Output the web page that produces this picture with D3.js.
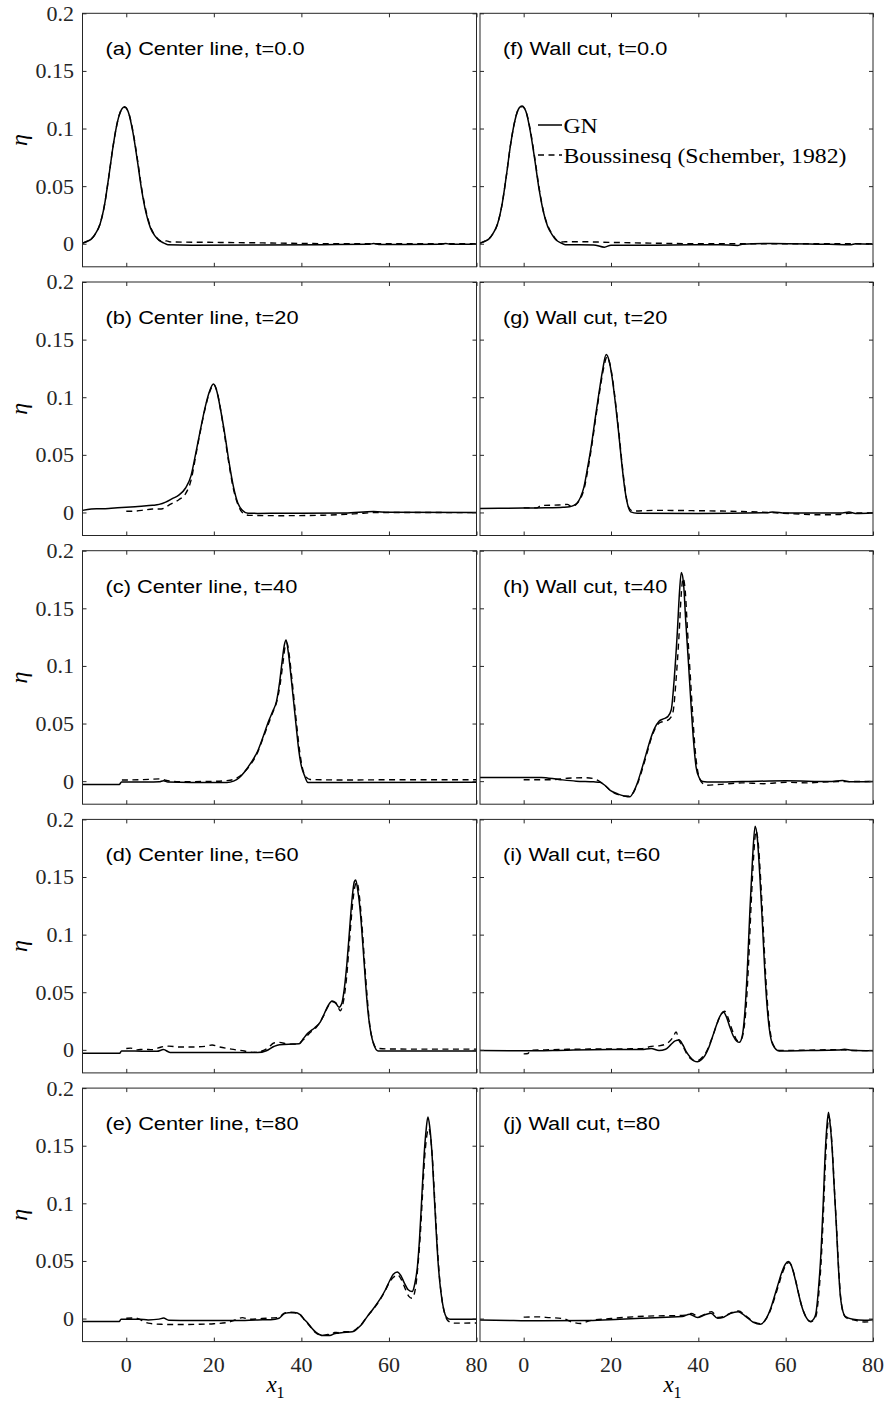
<!DOCTYPE html>
<html>
<head>
<meta charset="utf-8">
<script src="https://cdn.jsdelivr.net/npm/d3@7"></script>
<style>
  body { margin: 0; background: #fff; }
  svg { display: block; }
</style>
</head>
<body>
<svg id="fig" width="891" height="1405"></svg>
<script>
// ---------- axis ticks and labels ----------
const xDomain = [-10, 80];
const yDomain = [-0.02, 0.2];
const xTicks = [0, 20, 40, 60, 80];
const xTickLabels = ["0", "20", "40", "60", "80"];
const yTicks = [0, 0.05, 0.1, 0.15, 0.2];
const yTickLabels = ["0", "0.05", "0.1", "0.15", "0.2"];
const seriesNames = ["GN", "Boussinesq (Schember, 1982)"];

// panel titles: left column (center line), right column (wall cut)
const centerTitles = ["(a) Center line, t=0.0", "(b) Center line, t=20", "(c) Center line, t=40",
                      "(d) Center line, t=60", "(e) Center line, t=80"];
const wallTitles = ["(f) Wall cut, t=0.0", "(g) Wall cut, t=20", "(h) Wall cut, t=40",
                    "(i) Wall cut, t=60", "(j) Wall cut, t=80"];

// ---------- surface elevation profiles [x1, eta] ----------
// (a) center line, t = 0
const gnA = [[-10,0.0005],[-9,0.002],[-8,0.004],[-7,0.009],[-6,0.017],[-5,0.033],[-4,0.058],[-3,0.085],
  [-2,0.106],[-1,0.117],[-0.4,0.119],[0.5,0.114],[1.5,0.097],[2.5,0.073],[3.5,0.047],[4.5,0.027],
  [5.5,0.014],[6.5,0.007],[7.5,0.003],[8.5,0.0008],[9.5,-0.0008],[15,-0.0012],[30,-0.0011],[45,-0.0008],
  [55.5,-0.0005],[56.5,0.0003],[58,-0.0006],[72,-0.0004],[73,0.0003],[74,-0.0005],[80,-0.0004]];
const bqA = [[-10,0.0005],[-9,0.002],[-8,0.004],[-7,0.009],[-6,0.017],[-5,0.033],[-4,0.058],[-3,0.085],
  [-2,0.106],[-1,0.117],[-0.3,0.1185],[0.6,0.113],[1.6,0.096],[2.6,0.072],[3.6,0.046],[4.6,0.027],
  [5.6,0.014],[6.6,0.007],[7.6,0.003],[8.5,0.002],[9.2,0.0025],[10,0.0016],[20,0.0012],[30,0.0008],
  [40,0.0003],[50,0.0],[80,0.0]];

// (b) center line, t = 20
const gnB = [[-10,0.0018],[-8,0.003],[-6,0.0032],[-4,0.0035],[-2,0.004],[0,0.0045],[2,0.005],[4,0.0055],
  [6,0.0062],[7.5,0.007],[9,0.009],[10.5,0.012],[12,0.015],[13.5,0.021],[14.8,0.032],[15.8,0.05],
  [17,0.073],[18,0.091],[19,0.105],[19.9,0.1115],[20.7,0.105],[21.5,0.09],[22.5,0.068],[23.5,0.043],
  [24.5,0.022],[25.5,0.008],[26.5,0.002],[27.8,-0.0006],[30,-0.0008],[40,-0.0006],[50,-0.0004],
  [56.5,0.0008],[60,0.0002],[80,0.0]];
const bqB = [[0,0.001],[2,0.0012],[4,0.002],[6,0.003],[8,0.003],[10,0.007],[12,0.011],[13.5,0.016],
  [14.8,0.028],[16,0.052],[17,0.072],[18,0.09],[19,0.104],[20,0.111],[20.8,0.104],[21.6,0.088],
  [22.5,0.066],[23.5,0.041],[24.5,0.02],[25.5,0.007],[26.5,0.0],[28,-0.0025],[35,-0.0028],
  [45,-0.0024],[52,-0.0012],[58,0.0],[80,-0.0002]];

// (c) center line, t = 40
const gnC = [[-10,-0.0028],[-1.6,-0.0028],[-1.1,-0.0008],[5,-0.0008],[7.5,-0.0006],[8.5,0.0004],
  [9.5,-0.0008],[15,-0.0012],[23,-0.0012],[24.5,0.0],[25.8,0.003],[27,0.008],[28.5,0.016],[30,0.026],
  [31.3,0.039],[32.5,0.052],[33.5,0.061],[34.3,0.069],[35,0.085],[35.6,0.104],[36.1,0.118],
  [36.5,0.1225],[37,0.112],[37.6,0.092],[38.2,0.07],[38.8,0.048],[39.4,0.027],[40,0.013],
  [40.7,0.005],[41.5,-0.0012],[50,-0.0012],[80,-0.001]];
const bqC = [[-1,0.001],[3,0.0012],[8,0.002],[9,0.0008],[12,-0.0005],[18,-0.0003],[23,0.0005],
  [24.5,0.0015],[25.8,0.004],[27,0.008],[28.5,0.015],[30,0.025],[31.3,0.038],[32.5,0.05],[33.5,0.06],
  [34.3,0.068],[35.1,0.083],[35.8,0.103],[36.3,0.117],[36.7,0.12],[37.2,0.11],[37.8,0.09],
  [38.4,0.068],[39,0.046],[39.6,0.026],[40.2,0.012],[41,0.004],[42,0.0015],[50,0.001],[60,0.0012],
  [80,0.0012]];

// (d) center line, t = 60
const gnD = [[-10,-0.0029],[-1.5,-0.0029],[-1.1,-0.0009],[5,-0.0012],[7,-0.0012],[8.5,0.0002],
  [10,-0.0022],[30,-0.0024],[32,-0.0008],[33.7,0.0029],[35,0.0045],[38,0.005],[39.5,0.0052],
  [40.5,0.01],[41.5,0.0145],[43,0.019],[44.3,0.024],[45.3,0.032],[46.2,0.039],[47,0.0425],
  [47.8,0.041],[48.6,0.037],[49.2,0.04],[49.8,0.053],[50.4,0.075],[51,0.104],[51.6,0.132],
  [52.1,0.146],[52.4,0.1474],[52.9,0.138],[53.5,0.118],[54.1,0.088],[54.7,0.056],[55.3,0.03],
  [55.9,0.014],[56.5,0.005],[57.5,-0.0009],[60,-0.001],[80,-0.0009]];
const bqD = [[0,0.0012],[1,0.0015],[2.5,0.0],[4,0.0005],[6,0.0002],[8,0.0025],[9.7,0.0032],
  [12,0.0025],[15,0.0025],[18,0.003],[19.6,0.0042],[21,0.0028],[24,0.0006],[27,-0.001],[29,-0.0022],
  [31,-0.001],[32.5,0.002],[33.7,0.006],[35,0.0065],[37,0.005],[39,0.005],[40.5,0.009],[42,0.015],
  [43.5,0.02],[45,0.029],[46,0.037],[47,0.042],[48,0.04],[48.9,0.034],[49.6,0.042],[50.3,0.062],
  [51,0.095],[51.7,0.127],[52.3,0.143],[52.7,0.1455],[53.2,0.135],[53.8,0.11],[54.4,0.078],
  [55,0.047],[55.6,0.022],[56.3,0.008],[57.2,0.0015],[60,0.0008],[70,0.0006],[80,0.0006]];

// (e) center line, t = 80
const gnE = [[-10,-0.0026],[-1.6,-0.0026],[-1.2,-0.0006],[3,-0.0006],[5,-0.0012],[7.5,-0.0005],
  [8.5,0.0004],[9.7,-0.0014],[15,-0.0017],[25,-0.0017],[30,-0.0012],[33,-0.001],[34.9,0.0003],
  [36,0.004],[37,0.005],[38.4,0.0052],[39.8,0.0032],[40.6,-0.0005],[41.5,-0.004],[42.3,-0.008],
  [43.2,-0.0115],[44.1,-0.0138],[45,-0.0148],[46.5,-0.0147],[47.5,-0.0132],[48.3,-0.0127],
  [49.5,-0.012],[51,-0.0117],[52,-0.011],[53,-0.008],[54,-0.004],[55,0.0015],[56.5,0.009],
  [58,0.017],[59.2,0.025],[60.2,0.033],[61,0.0385],[61.9,0.0405],[62.7,0.0375],[63.5,0.031],
  [64.4,0.025],[65.3,0.0234],[65.9,0.03],[66.5,0.045],[67,0.07],[67.5,0.105],[68,0.14],
  [68.5,0.164],[68.9,0.175],[69.3,0.167],[69.8,0.145],[70.3,0.11],[70.8,0.075],[71.3,0.045],
  [71.9,0.022],[72.5,0.008],[73.2,0.001],[74,-0.0006],[80,-0.0006]];
const bqE = [[0,0.0003],[2,0.0005],[3.5,-0.0015],[5,-0.004],[8,-0.005],[12,-0.0052],[16,-0.005],
  [20,-0.0045],[23,-0.0035],[25,-0.001],[26.5,0.0008],[28,-0.0006],[31,0.0],[33,0.0005],[34.9,0.001],
  [36,0.0045],[37.2,0.0055],[38.5,0.005],[39.8,0.003],[40.6,-0.0008],[41.5,-0.0045],[42.3,-0.0085],
  [43.2,-0.012],[44.1,-0.014],[45,-0.0145],[46,-0.0138],[46.8,-0.0142],[47.6,-0.012],[48.4,-0.0122],
  [49.5,-0.0115],[51,-0.0115],[52,-0.0105],[53,-0.0075],[54,-0.0035],[55,0.0015],[56.5,0.0085],
  [58,0.0165],[59.2,0.0245],[60.2,0.032],[61.1,0.036],[62,0.038],[62.8,0.034],[63.6,0.027],
  [64.5,0.0195],[65.3,0.0176],[66,0.025],[66.6,0.045],[67.2,0.075],[67.7,0.11],[68.2,0.142],
  [68.7,0.16],[69.1,0.165],[69.5,0.158],[70,0.135],[70.5,0.1],[71,0.066],[71.5,0.038],[72.1,0.017],
  [72.7,0.005],[73.5,-0.002],[75,-0.004],[80,-0.0038]];

// (f) wall cut, t = 0
const gnF = [[-10,0.0005],[-9,0.002],[-8,0.004],[-7,0.009],[-6,0.017],[-5,0.033],[-4,0.058],[-3,0.086],
  [-2,0.107],[-1,0.118],[-0.4,0.1195],[0.5,0.115],[1.5,0.098],[2.5,0.074],[3.5,0.048],[4.5,0.028],
  [5.5,0.015],[6.5,0.008],[7.5,0.003],[8.5,0.0008],[9.5,-0.0008],[16,-0.001],[18.5,-0.003],[20,-0.0012],
  [30,-0.0012],[45,-0.0008],[49,-0.0015],[50,-0.0004],[57,0.0003],[70,-0.0005],[75,-0.0008],[76,0.0],
  [80,-0.0005]];
const bqF = [[-10,0.0005],[-9,0.002],[-8,0.004],[-7,0.009],[-6,0.017],[-5,0.033],[-4,0.058],[-3,0.086],
  [-2,0.107],[-1,0.118],[-0.3,0.119],[0.6,0.114],[1.6,0.097],[2.6,0.073],[3.6,0.047],[4.6,0.027],
  [5.6,0.015],[6.6,0.008],[7.6,0.003],[8.6,0.0015],[9.5,0.0018],[12,0.0018],[20,0.0012],[30,0.0005],
  [40,0.0],[80,0.0]];

// (g) wall cut, t = 20
const gnG = [[-10,0.0035],[0,0.0038],[5,0.004],[9,0.0045],[10.5,0.005],[11.5,0.0062],[12.3,0.0085],
  [13,0.013],[13.8,0.022],[14.6,0.038],[15.5,0.058],[16.4,0.082],[17.3,0.105],[18.1,0.124],
  [18.9,0.137],[19.6,0.131],[20.3,0.116],[21,0.095],[21.7,0.071],[22.4,0.045],[23.1,0.022],
  [23.8,0.007],[24.5,0.0005],[26,-0.0006],[40,-0.0008],[56,-0.0002],[57,0.0004],[60,-0.0005],
  [73,-0.0004],[74.5,0.0004],[76,-0.0008],[80,-0.0004]];
const bqG = [[0,0.004],[3,0.004],[4,0.006],[8,0.0065],[10,0.007],[11,0.005],[12,0.007],[13,0.012],
  [13.8,0.02],[14.7,0.037],[15.6,0.058],[16.5,0.082],[17.4,0.105],[18.3,0.125],[19.1,0.135],
  [19.8,0.128],[20.5,0.112],[21.2,0.09],[21.9,0.066],[22.6,0.04],[23.3,0.018],[24,0.005],[25,0.0012],
  [30,0.0018],[40,0.0015],[50,0.0008],[56,0.0],[62,-0.0012],[68,-0.002],[72,-0.0018],[75,-0.0005],
  [80,-0.0003]];

// (h) wall cut, t = 40
const gnH = [[-10,0.0032],[4,0.0032],[8,0.0015],[12,0.0],[16,-0.0006],[17.5,-0.001],[18.7,-0.004],
  [20,-0.0085],[21.5,-0.011],[23,-0.0128],[24.3,-0.0136],[25.2,-0.009],[26,-0.002],[27,0.01],
  [28,0.023],[29,0.036],[30,0.046],[31,0.052],[32,0.054],[33,0.056],[33.8,0.062],[34.5,0.09],
  [35.2,0.13],[35.7,0.165],[36.1,0.181],[36.6,0.172],[37.1,0.14],[37.7,0.105],[38.3,0.068],
  [38.9,0.035],[39.5,0.012],[40.2,0.003],[41,-0.0003],[43,-0.0008],[50,-0.0004],[60,0.0003],
  [70,-0.0003],[73,0.0006],[75,-0.0006],[80,-0.0003]];
const bqH = [[0,0.0012],[6,0.0012],[10,0.0025],[14,0.003],[16,0.0022],[17.5,-0.0005],[18.7,-0.004],
  [20,-0.0085],[21.5,-0.0115],[23,-0.013],[24.3,-0.013],[25.4,-0.008],[26.3,0.0],[27.3,0.012],
  [28.3,0.025],[29.3,0.038],[30.3,0.047],[31.3,0.051],[32.4,0.052],[33.4,0.054],[34.2,0.06],
  [34.9,0.088],[35.6,0.128],[36.1,0.163],[36.5,0.176],[37,0.165],[37.5,0.132],[38.1,0.095],
  [38.7,0.058],[39.3,0.026],[40,0.006],[41,-0.002],[42,-0.0035],[45,-0.0028],[50,-0.0015],
  [55,-0.0022],[60,-0.001],[65,-0.0015],[70,-0.0005],[80,-0.0003]];

// (i) wall cut, t = 60
const gnI = [[-10,-0.0006],[0,-0.0008],[10,-0.0003],[20,0.0002],[27,0.0003],[29.2,0.0012],[31,-0.0006],
  [32.5,0.0005],[33.7,0.0045],[34.7,0.0078],[35.6,0.0085],[36.5,0.004],[37.3,-0.002],[38.2,-0.0066],
  [39,-0.0095],[39.8,-0.0104],[40.7,-0.0085],[41.5,-0.005],[42.4,0.002],[43.3,0.012],[44.2,0.022],
  [45,0.0295],[45.8,0.0327],[46.5,0.028],[47.2,0.02],[48,0.012],[48.8,0.0075],[49.4,0.0065],
  [50,0.011],[50.6,0.03],[51.2,0.068],[51.8,0.12],[52.4,0.165],[53,0.194],[53.5,0.184],[54.1,0.15],
  [54.7,0.1075],[55.2,0.07],[55.7,0.04],[56.3,0.017],[57,0.005],[58.5,-0.0009],[65,-0.0006],
  [72,-0.0002],[73.5,0.0005],[75,-0.0003],[80,-0.0008]];
const bqI = [[0,-0.0035],[1,-0.0032],[1.5,-0.0005],[5,0.0],[10,0.0005],[20,0.0008],[27,0.001],
  [29.2,0.003],[31,0.0035],[33,0.006],[34.2,0.011],[34.9,0.0155],[35.6,0.008],[36.5,0.003],
  [37.3,-0.003],[38.2,-0.0075],[39.2,-0.0095],[40.1,-0.009],[41,-0.006],[41.8,-0.002],[42.6,0.005],
  [43.5,0.014],[44.4,0.024],[45.2,0.031],[46,0.0335],[46.7,0.029],[47.4,0.021],[48.2,0.013],
  [49,0.008],[49.7,0.0085],[50.3,0.015],[50.9,0.035],[51.5,0.075],[52.1,0.127],[52.7,0.17],
  [53.2,0.19],[53.7,0.18],[54.3,0.146],[54.9,0.103],[55.4,0.066],[55.9,0.037],[56.5,0.015],
  [57.2,0.004],[58.5,-0.0005],[65,-0.0003],[72,0.0002],[75,-0.0005],[80,-0.0007]];

// (j) wall cut, t = 80
const gnJ = [[-10,-0.0012],[-2.3,-0.0017],[3.5,-0.002],[15,-0.0017],[22,-0.0005],[26.9,0.0003],
  [32.7,0.0012],[36.3,0.0017],[38,0.0038],[39.8,0.0009],[41.5,0.0032],[42.9,0.0046],[44.4,0.0003],
  [45.8,0.0012],[47.4,0.0046],[49.1,0.006],[50.9,0.0017],[52.6,-0.0032],[54.2,-0.005],[55.6,0.0003],
  [56.5,0.008],[57.3,0.0176],[58.2,0.029],[59.1,0.04],[59.9,0.047],[60.6,0.0495],[61.2,0.047],
  [61.8,0.04],[62.5,0.029],[63.2,0.0176],[63.9,0.008],[64.6,0.0017],[65.7,-0.0026],[66.4,-0.0005],
  [66.9,0.004],[67.5,0.025],[68.1,0.058],[68.6,0.1],[69,0.139],[69.4,0.165],[69.8,0.179],[70.2,0.168],
  [70.6,0.15],[71.1,0.115],[71.6,0.081],[72,0.05],[72.5,0.0205],[73,0.008],[73.7,0.0017],
  [75.4,-0.0006],[78,-0.0015],[80,-0.001]];
const bqJ = [[0,0.0012],[3,0.0015],[6,0.0008],[9,0.0],[11,-0.003],[13,-0.0043],[15,-0.002],[20,0.0],
  [25,0.0015],[30,0.0023],[35,0.0025],[37,0.003],[38.5,0.0045],[40,0.0015],[41.6,0.004],[43,0.006],
  [44.5,0.001],[46,0.002],[47.5,0.005],[49.2,0.0065],[51,0.002],[52.7,-0.003],[54.3,-0.0045],
  [55.7,0.0008],[56.6,0.008],[57.4,0.017],[58.3,0.028],[59.2,0.039],[60,0.046],[60.7,0.0485],
  [61.3,0.046],[61.9,0.039],[62.6,0.028],[63.3,0.016],[64,0.007],[64.7,0.001],[65.8,-0.0028],
  [66.5,-0.0008],[67,0.003],[67.6,0.022],[68.2,0.055],[68.7,0.097],[69.1,0.135],[69.5,0.162],
  [69.9,0.175],[70.3,0.166],[70.7,0.146],[71.2,0.11],[71.7,0.076],[72.1,0.046],[72.6,0.018],
  [73.1,0.006],[73.9,0.0005],[75.5,-0.001],[78,-0.003],[80,-0.0025]];

const gnCenter = [gnA, gnB, gnC, gnD, gnE];
const bqCenter = [bqA, bqB, bqC, bqD, bqE];
const gnWall = [gnF, gnG, gnH, gnI, gnJ];
const bqWall = [bqF, bqG, bqH, bqI, bqJ];

// ---------- layout ----------
const svg = d3.select("#fig");
const cols = [{ left: 82.5, right: 476.5 }, { left: 480, right: 873 }];
const rowTop0 = 13.3, rowStep = 268.7, panelH = 253.5;
const frameColor = "#262626";
const serif = "'Liberation Serif', 'Times New Roman', serif";
const sans = "'Liberation Sans', Arial, Helvetica, sans-serif";
const titleStretch = 1.21;

const line = (x, y) => d3.line().x(d => x(d[0])).y(d => y(d[1])).curve(d3.curveMonotoneX);

function drawPanel(ci, ri, title, gn, bq) {
  const c = cols[ci];
  const top = rowTop0 + ri * rowStep, bottom = top + panelH;
  const x = d3.scaleLinear().domain(xDomain).range([c.left, c.right]);
  const y = d3.scaleLinear().domain(yDomain).range([bottom, top]);
  const g = svg.append("g");

  const clipId = `clip-${ci}-${ri}`;
  g.append("clipPath").attr("id", clipId).append("rect")
    .attr("x", c.left).attr("y", top).attr("width", c.right - c.left).attr("height", panelH);

  // curves
  const curves = g.append("g").attr("clip-path", `url(#${clipId})`);
  curves.append("path").datum(bq).attr("d", line(x, y))
    .attr("fill", "none").attr("stroke", "#000").attr("stroke-width", 1.4)
    .attr("stroke-dasharray", "6,4.5");
  curves.append("path").datum(gn).attr("d", line(x, y))
    .attr("fill", "none").attr("stroke", "#000").attr("stroke-width", 1.5);

  // inward ticks on all four sides
  const tickLen = 4;
  const axes = [
    { ax: d3.axisBottom(x).tickValues(xTicks), tr: `translate(0,${bottom})` },
    { ax: d3.axisTop(x).tickValues(xTicks), tr: `translate(0,${top})` },
    { ax: d3.axisLeft(y).tickValues(yTicks), tr: `translate(${c.left},0)` },
    { ax: d3.axisRight(y).tickValues(yTicks), tr: `translate(${c.right},0)` }
  ];
  axes.forEach(a => {
    const ag = g.append("g").attr("transform", a.tr)
      .call(a.ax.tickSize(-tickLen).tickSizeOuter(0).tickFormat(""));
    ag.select(".domain").remove();
    ag.selectAll(".tick line").attr("stroke", frameColor).attr("stroke-width", 1);
  });

  // frame
  g.append("rect").attr("x", c.left).attr("y", top)
    .attr("width", c.right - c.left).attr("height", panelH)
    .attr("fill", "none").attr("stroke", frameColor).attr("stroke-width", 1);

  // tick labels
  if (ci === 0) {
    g.selectAll(".ylab").data(yTicks).join("text")
      .attr("x", c.left - 8.5).attr("y", d => y(d)).attr("dy", "0.34em")
      .attr("text-anchor", "end").attr("font-family", serif).attr("font-size", 22)
      .attr("fill", frameColor).text((d, i) => yTickLabels[i]);
    // y axis label
    g.append("text")
      .attr("transform", `translate(27,${y(0.09)}) rotate(-90)`)
      .attr("text-anchor", "middle").attr("font-family", serif).attr("font-style", "italic")
      .attr("font-size", 24).attr("fill", "#000").text("η");
  }
  if (ri === 4) {
    g.selectAll(".xlab").data(xTicks).join("text")
      .attr("x", d => x(d)).attr("y", bottom + 30)
      .attr("text-anchor", "middle").attr("font-family", serif).attr("font-size", 22)
      .attr("fill", frameColor).text((d, i) => xTickLabels[i]);
    const xl = g.append("text")
      .attr("x", (c.left + c.right) / 2 - 4).attr("y", bottom + 50)
      .attr("text-anchor", "middle").attr("font-family", serif).attr("fill", "#000");
    xl.append("tspan").attr("font-style", "italic").attr("font-size", 23).text("x");
    xl.append("tspan").attr("font-size", 16).attr("dy", 6).text("1");
  }

  // panel title
  g.append("text")
    .attr("transform", `translate(${c.left + 23},${top + 42}) scale(${titleStretch},1)`)
    .attr("font-family", sans).attr("font-size", 18).attr("fill", "#000").text(title);

  return { x, y, top, c };
}

for (let r = 0; r < 5; r++) {
  drawPanel(0, r, centerTitles[r], gnCenter[r], bqCenter[r]);
  const p = drawPanel(1, r, wallTitles[r], gnWall[r], bqWall[r]);
  if (r === 0) {
    // legend inside panel (f)
    const lx0 = p.c.left + 58, lx1 = p.c.left + 82;
    const ly = [p.top + 111.7, p.top + 141.7];
    const lg = svg.append("g");
    lg.append("line").attr("x1", lx0).attr("x2", lx1).attr("y1", ly[0]).attr("y2", ly[0])
      .attr("stroke", "#000").attr("stroke-width", 1.5);
    lg.append("line").attr("x1", lx0).attr("x2", lx1).attr("y1", ly[1]).attr("y2", ly[1])
      .attr("stroke", "#000").attr("stroke-width", 1.4).attr("stroke-dasharray", "6,4.5");
    seriesNames.forEach((s, i) => {
      lg.append("text")
        .attr("transform", `translate(${lx1 + 1.5},${ly[i] + 7.5}) scale(1.13,1)`)
        .attr("font-family", serif).attr("font-size", 21).attr("fill", "#000").text(s);
    });
  }
}
</script>
</body>
</html>
